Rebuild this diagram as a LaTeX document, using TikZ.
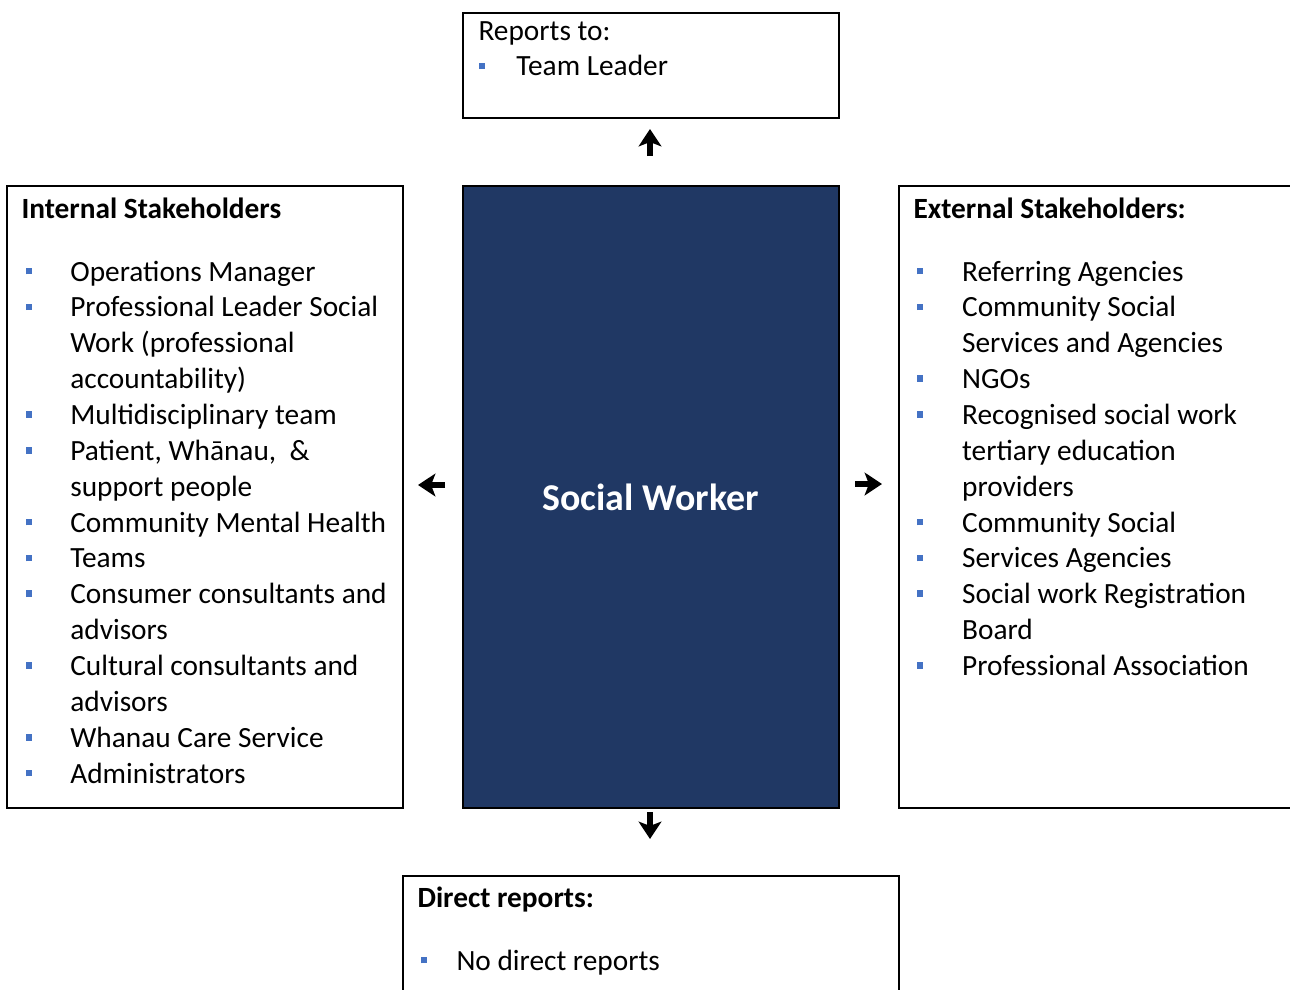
\documentclass[tikz,border=0pt]{standalone}
\usepackage{fontspec}
\setmainfont{Carlito}
\usepackage{array}
\usetikzlibrary{arrows.meta}
\definecolor{swnavy}{HTML}{203864}
\definecolor{swbullet}{HTML}{4472C4}
\newcommand{\sqb}{\textcolor{swbullet}{\rule[2.5pt]{2.5pt}{2.5pt}}}
\tikzset{
    every node/.style = {font=\fontsize{11}{13.45}\selectfont},
    mybox/.style = {draw=black, line width=0.75pt, inner sep=0pt, anchor=north west},
    myboxn/.style = {mybox, fill=swnavy},
    mytitle/.style = {anchor=base west, inner sep=0pt, font=\fontsize{11}{13.45}\selectfont\bfseries},
    mylist/.style = {anchor=base west, inner sep=0pt, align=left},
    myarrow/.style = {line width=2pt, -{Stealth[length=6.5pt, width=8.5pt, inset=1.6pt]}},
}

\begin{document}
\begin{tikzpicture}[x=0.375pt, y=-0.375pt]
\useasboundingbox (0,0) rectangle (1290,989);
%
\node[mybox, minimum width=141pt, minimum height=39.4pt] at (461.5,12) (top) {};
\node[mybox, minimum width=148.5pt, minimum height=233.25pt] at (5.5,185) (int) {};
\node[myboxn, minimum width=141pt, minimum height=233.25pt] at (461.5,185) (sw) {};
\node[mybox, minimum width=160pt, minimum height=233.25pt] at (897.5,185) (ext) {};
\node[mybox, minimum width=186pt, minimum height=60pt] at (401.5,874.5) (dir) {};
%
\node[text=white, font=\fontsize{14.2}{17}\selectfont\bfseries] at (sw.center) (swname) {Social Worker};
%
\node[mylist] at (478,40) (toplist) {%
  \begin{tabular}[t]{@{}p{14.2pt}@{}l@{}}
  \multicolumn{2}{@{}l@{}}{Reports to:}\\
  \sqb & Team Leader
  \end{tabular}};
%
\node[mytitle] at (21,218) (inttitle) {Internal Stakeholders};
\node[mylist] at (25,281) (intlist) {%
  \begin{tabular}[t]{@{}p{16.8pt}@{}l@{}}
  \sqb & Operations Manager\\
  \sqb & Professional Leader Social\\
       & Work (professional\\
       & accountability)\\
  \sqb & Multidisciplinary team\\
  \sqb & Patient, Whānau,\ \ \&\\
       & support people\\
  \sqb & Community Mental Health\\
  \sqb & Teams\\
  \sqb & Consumer consultants and\\
       & advisors\\
  \sqb & Cultural consultants and\\
       & advisors\\
  \sqb & Whanau Care Service\\
  \sqb & Administrators
  \end{tabular}};
%
\node[mytitle] at (913,218) (exttitle) {External Stakeholders:};
\node[mylist] at (916,281) (extlist) {%
  \begin{tabular}[t]{@{}p{17.1pt}@{}l@{}}
  \sqb & Referring Agencies\\
  \sqb & Community Social\\
       & Services and Agencies\\
  \sqb & NGOs\\
  \sqb & Recognised social work\\
       & tertiary education\\
       & providers\\
  \sqb & Community Social\\
  \sqb & Services Agencies\\
  \sqb & Social work Registration\\
       & Board\\
  \sqb & Professional Association
  \end{tabular}};
%
\node[mytitle] at (417,907) (dirtitle) {Direct reports:};
\node[mylist] at (420,970) (dirlist) {%
  \begin{tabular}[t]{@{}p{13.5pt}@{}l@{}}
  \sqb & No direct reports
  \end{tabular}};
%
\coordinate (up0) at (650,156);
\coordinate (up1) at (650,129);
\coordinate (lf0) at (445,485);
\coordinate (lf1) at (418,485);
\coordinate (rt0) at (855,484);
\coordinate (rt1) at (882,484);
\coordinate (dn0) at (650,812);
\coordinate (dn1) at (650,839);
\draw[myarrow] (up0) -- (up1);
\draw[myarrow] (lf0) -- (lf1);
\draw[myarrow] (rt0) -- (rt1);
\draw[myarrow] (dn0) -- (dn1);

\end{tikzpicture}
\end{document}
